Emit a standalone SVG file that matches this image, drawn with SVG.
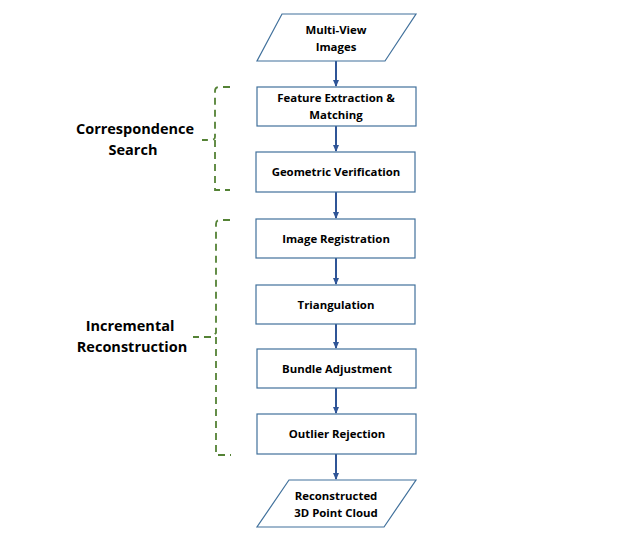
<svg xmlns="http://www.w3.org/2000/svg" width="639" height="534" viewBox="0 0 639 534">
<style>
.n{fill:#fff;stroke:#41719C;stroke-width:1.2}
.t{font-family:"Open Sans","Liberation Sans",sans-serif;font-weight:bold;font-size:11.4px;fill:#000;text-anchor:middle}
.l{font-family:"Open Sans","Liberation Sans",sans-serif;font-weight:bold;font-size:14.5px;fill:#000;text-anchor:middle}
.c{stroke:#2F5597;stroke-width:2;fill:none}
.b{stroke:#548235;stroke-width:1.8;fill:none;stroke-dasharray:7,5}
</style>
<defs>
<marker id="ah" markerWidth="8" markerHeight="8" refX="6" refY="4" orient="auto" markerUnits="userSpaceOnUse">
<path d="M0,1 L7,4 L0,7 Z" fill="#2F5597"/>
</marker>
</defs>
<rect width="639" height="534" fill="#fff"/>
<g id="connectors">
<line class="c" x1="336" y1="61" x2="336" y2="86" marker-end="url(#ah)"/>
<line class="c" x1="336" y1="126" x2="336" y2="151" marker-end="url(#ah)"/>
<line class="c" x1="336" y1="192" x2="336" y2="218" marker-end="url(#ah)"/>
<line class="c" x1="336" y1="258" x2="336" y2="284" marker-end="url(#ah)"/>
<line class="c" x1="336" y1="324" x2="336" y2="348" marker-end="url(#ah)"/>
<line class="c" x1="336" y1="388" x2="336" y2="413" marker-end="url(#ah)"/>
<line class="c" x1="336" y1="454" x2="336" y2="479" marker-end="url(#ah)"/>
</g>
<g id="input">
<polygon class="n" points="282,14 416,14 385,61 257,61"/>
<text class="t" x="336" y="34">Multi-View</text>
<text class="t" x="336" y="51">Images</text>
</g>
<g id="feature">
<rect class="n" x="257" y="87" width="159" height="39"/>
<text class="t" x="336" y="102">Feature Extraction &amp;</text>
<text class="t" x="336" y="119">Matching</text>
</g>
<g id="geometric">
<rect class="n" x="256" y="152" width="159" height="40"/>
<text class="t" x="336" y="176">Geometric Verification</text>
</g>
<g id="registration">
<rect class="n" x="256" y="219" width="159" height="39"/>
<text class="t" x="336" y="243">Image Registration</text>
</g>
<g id="triangulation">
<rect class="n" x="256" y="285" width="159" height="39"/>
<text class="t" x="336" y="309">Triangulation</text>
</g>
<g id="bundle">
<rect class="n" x="257" y="349" width="159" height="39"/>
<text class="t" x="337" y="373">Bundle Adjustment</text>
</g>
<g id="outlier">
<rect class="n" x="257" y="414" width="159" height="40"/>
<text class="t" x="337" y="438">Outlier Rejection</text>
</g>
<g id="output">
<polygon class="n" points="289,480 416,480 384,527 257,527"/>
<text class="t" x="336" y="500">Reconstructed</text>
<text class="t" x="336" y="517">3D Point Cloud</text>
</g>
<g id="bracket-correspondence">
<path class="b" d="M230,87 L219,87 Q215,87 215,91 L215,137 Q215,140 211,140 L202,140 M215,140 L215,190 L230,190"/>
<text class="l" x="135" y="134">Correspondence</text>
<text class="l" x="133" y="155">Search</text>
</g>
<g id="bracket-incremental">
<path class="b" d="M230,220 L220,220 Q216,220 216,224 L216,333 L212,337 L193,337 M216,337 L216,455 L231,455"/>
<text class="l" x="130" y="331">Incremental</text>
<text class="l" x="132" y="352">Reconstruction</text>
</g>
</svg>
